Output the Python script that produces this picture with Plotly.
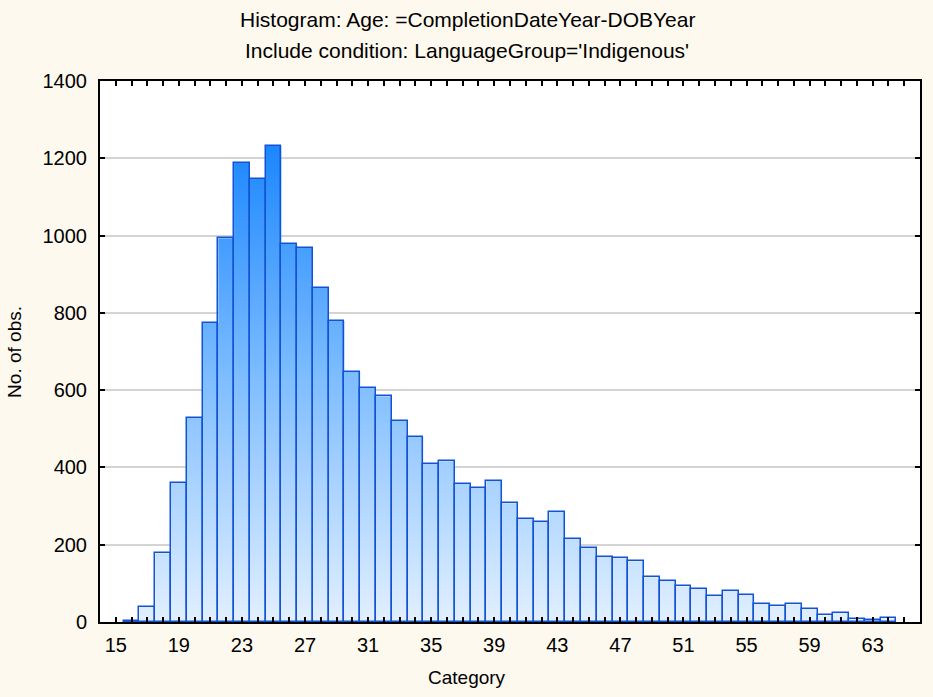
import plotly.graph_objects as go

ages = list(range(15, 65))
counts = [0, 3, 40, 178, 360, 529, 774, 993, 1189, 1147,
          1233, 978, 968, 865, 779, 647, 606, 584, 520, 480,
          410, 416, 358, 348, 365, 307, 267, 259, 285, 216,
          192, 169, 165, 157, 116, 106, 92, 86, 68, 80,
          71, 47, 41, 46, 34, 17, 23, 9, 5, 10]
x_tick_vals = list(range(15, 64, 4))
x_tick_text = [str(v) for v in x_tick_vals]
title_line1 = "Histogram: Age: =CompletionDateYear-DOBYear"
title_line2 = "Include condition: LanguageGroup='Indigenous'"

FONT = "Liberation Sans, Arial, sans-serif"
PAPER = "#FDF9EE"
X_RANGE = [14, 66]
Y_RANGE = [0, 1400]

fig = go.Figure()

# gradient fill under the histogram outline
fill_x = ages + [ages[-1] + 1]
fill_y = counts + [0]
fig.add_trace(go.Scatter(
    x=fill_x, y=fill_y, mode="lines", line=dict(shape="hvh", width=0),
    fill="tozeroy",
    fillgradient=dict(type="vertical", start=0, stop=1240,
                      colorscale=[[0, "#E2EFFF"], [0.5, "#80BEFF"], [1, "#1A86FF"]]),
    hoverinfo="skip", showlegend=False,
))

# bar outlines, on an overlaid axis pair so they sit above the gradient
bar_counts = [c if c > 0 else None for c in counts]
fig.add_trace(go.Bar(
    x=ages, y=bar_counts, width=1, xaxis="x2", yaxis="y2",
    marker=dict(color="rgba(0,0,0,0)", line=dict(color="#1452D4", width=1.5)),
    showlegend=False,
))

fig.update_layout(
    width=933, height=697,
    margin=dict(l=100, r=13, t=81, b=75),
    paper_bgcolor=PAPER, plot_bgcolor="#FFFFFF",
    font=dict(family=FONT, size=19, color="#000000"),
    bargap=0,
    xaxis2=dict(overlaying="x", range=X_RANGE, showline=True, linecolor="#000000",
                linewidth=2, side="bottom", showticklabels=False, ticks="",
                showgrid=False, zeroline=False),
    yaxis2=dict(overlaying="y", range=Y_RANGE, visible=False),
    annotations=[
        dict(text=title_line1, xref="paper", yref="paper", x=0.4476, y=1.1128,
             xanchor="center", yanchor="middle", showarrow=False,
             font=dict(size=21, family=FONT)),
        dict(text=title_line2, xref="paper", yref="paper", x=0.4476, y=1.0555,
             xanchor="center", yanchor="middle", showarrow=False,
             font=dict(size=21, family=FONT)),
        dict(text="No. of obs.", xref="paper", yref="paper", x=-0.1044, y=0.5,
             xanchor="center", yanchor="middle", showarrow=False, textangle=-90,
             font=dict(size=19, family=FONT)),
        dict(text="Category", xref="paper", yref="paper", x=0.4476, y=-0.1035,
             xanchor="center", yanchor="middle", showarrow=False,
             font=dict(size=19, family=FONT)),
    ],
)

fig.update_layout(xaxis=dict(
    range=X_RANGE, tickvals=x_tick_vals, ticktext=x_tick_text,
    ticks="inside", ticklen=5, tickwidth=2, tickcolor="#000000",
    minor=dict(dtick=1, tick0=15, ticks="inside", ticklen=5, tickwidth=2,
               tickcolor="#000000", showgrid=False),
    showline=True, linecolor="#000000", linewidth=2, mirror="allticks",
    showgrid=False, zeroline=False, tickfont=dict(size=20), ticklabelstandoff=4,
))
fig.update_layout(yaxis=dict(
    range=Y_RANGE, dtick=200,
    ticks="inside", ticklen=5, tickwidth=2, tickcolor="#000000",
    showline=True, linecolor="#000000", linewidth=2, mirror="ticks",
    showgrid=True, gridcolor="#D4D4D4", gridwidth=1.5, zeroline=False,
    tickfont=dict(size=20), ticklabelstandoff=7,
))

fig.write_html(
    "out.html",
    config={"displayModeBar": False},
    post_script="document.body.style.margin='0';document.body.style.background='%s';" % PAPER,
)
